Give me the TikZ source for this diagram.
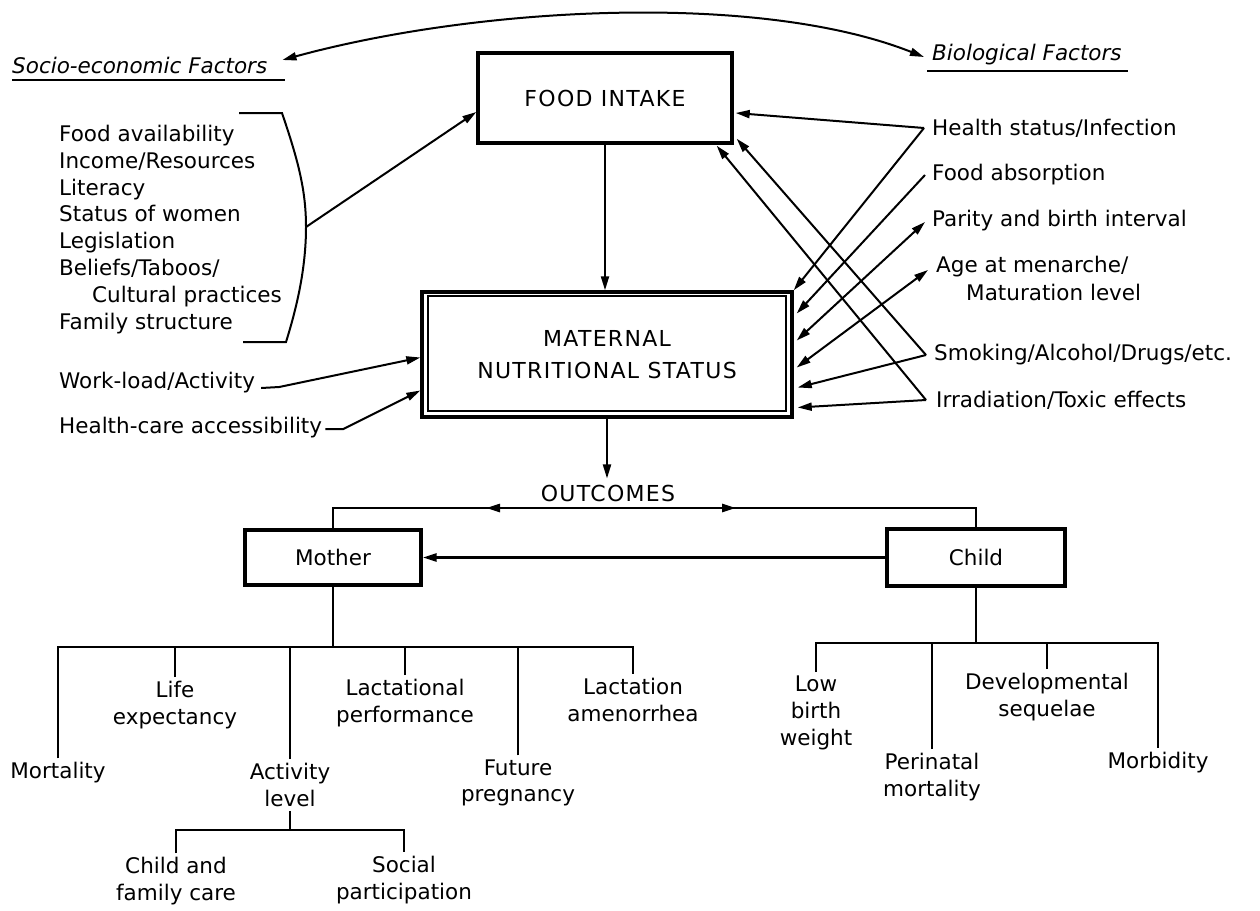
\documentclass[tikz,border=0pt]{standalone}
\usepackage{fontspec}
\setmainfont{DejaVu Sans}
\newfontfamily\capsfont{DejaVu Sans}[LetterSpace=6]
\usetikzlibrary{arrows.meta}
\begin{document}
\begin{tikzpicture}[x=1pt,y=-1pt,
  >={Triangle[length=14pt,width=8pt]},
  every node/.style={inner sep=0pt, font=\fontsize{21.5}{26.7}\selectfont},
  conn/.style={line width=2pt},
  tree/.style={line width=2.6pt},
  boxed/.style={draw, line width=3.4pt},
  caps/.style={font=\capsfont\fontsize{22}{32}\selectfont},
  lbl/.style={align=center, inner sep=4pt}
]
\useasboundingbox (0,0) rectangle (1260,910);
\fill[white] (0,0) rectangle (1260,910);

% titles
\node[anchor=west, font=\itshape\fontsize{21.5}{26}\selectfont] (socio) at (12,65) {Socio-economic Factors};
\node[anchor=west, font=\itshape\fontsize{21.5}{26}\selectfont] (bio) at (932,55) {Biological Factors};
\draw[conn] (12,80) -- (285,80);
\draw[conn] (927,71) -- (1128,71);
\draw[conn,<->] ([shift={(15,-5)}]socio.east) .. controls (480,6) and (760,-8) .. ([shift={(-8,2)}]bio.west);

% main boxes
\node[boxed, caps, minimum width=254pt, minimum height=90pt] (fi) at (605,98) {FOOD INTAKE};
\node[boxed, caps, align=center, minimum width=370pt, minimum height=125pt] (mns) at (607,354.5) {MATERNAL\\NUTRITIONAL STATUS};
\draw[line width=2pt] ([shift={(8,6)}]mns.north west) rectangle ([shift={(-8,-8)}]mns.south east);
\draw[conn,->] (fi.south) -- (fi.south |- mns.north);

% socio-economic list
\node[anchor=north west, align=left, font=\fontsize{21.5}{26.8}\selectfont] (soclist) at (59,125)
  {Food availability\\Income/Resources\\Literacy\\Status of women\\Legislation\\Beliefs/Taboos/\\\hspace*{33pt}Cultural practices\\Family structure};
\draw[conn] (239,113) -- (282,113) .. controls (298,160) and (306,190) .. (306,227)
  .. controls (306,270) and (296,310) .. (286,342) -- (243,342);
\coordinate (brk) at (306,227);
\draw[conn,->] (brk) -- ([shift={(0,14)}]fi.west);

% left inputs
\node[anchor=west] (wl) at (59,383) {Work-load/Activity};
\node[anchor=west] (hc) at (59,428) {Health-care accessibility};
\draw[conn,->] ([shift={(6,5)}]wl.east) -- ++(18,-1) -- ([shift={(0,3)}]mns.west);
\draw[conn,->] ([shift={(3,1)}]hc.east) -- ++(18,0) -- ([shift={(0,36)}]mns.west);

% biological factors
\node[anchor=west] (hs) at (932,128) {Health status/Infection};
\node[anchor=west] (fa) at (932,175) {Food absorption};
\node[anchor=west] (pb) at (932,221) {Parity and birth interval};
\node[anchor=west] (am1) at (936,267) {Age at menarche/};
\node[anchor=west] (am2) at (966,292) {Maturation level};
\node[anchor=west] (sm) at (934,355) {Smoking/Alcohol/Drugs/etc.};
\node[anchor=west] (ir) at (936,400) {Irradiation/Toxic effects};

\draw[conn,->] ([shift={(-8,0)}]hs.west) -- ([shift={(2,15)}]fi.east);
\draw[conn,->] ([shift={(-8,0)}]hs.west) -- (mns.north east);
\draw[conn,->] ([shift={(-7,0)}]fa.west) -- ([shift={(3,-41)}]mns.east);
\draw[conn,<->] ([shift={(-7,1)}]pb.west) -- ([shift={(3,-14)}]mns.east);
\draw[conn,<->] ([shift={(-8,3)}]am1.west) -- ([shift={(3,13)}]mns.east);
\draw[conn,->] ([shift={(-8,0)}]sm.west) -- ([shift={(3,-6)}]fi.south east);
\draw[conn,->] ([shift={(-8,0)}]sm.west) -- ([shift={(4,33)}]mns.east);
\draw[conn,->] ([shift={(-10,0)}]ir.west) -- ([shift={(-17,1)}]fi.south east);
\draw[conn,->] ([shift={(-10,0)}]ir.west) -- ([shift={(4,53)}]mns.east);

% outcomes
\node[caps] (out) at (608,493) {OUTCOMES};
\draw[conn,->] (mns.south) -- ([shift={(0,-6)}]mns.south |- out.north);
\node[boxed, minimum width=176pt, minimum height=55pt] (mother) at (333,557.5) {Mother};
\node[boxed, minimum width=178pt, minimum height=57pt] (child) at (976,557.5) {Child};
\coordinate (oc) at (608,508);
\draw[tree] (mother.north) |- (oc) -| (child.north);
\draw[tree,->] (oc) -- ++(-122,0);
\draw[tree,->] (oc) -- ++(128,0);
\draw[tree,->] (child.west) -- (mother.east);

% mother outcomes
\node[lbl] (mort) at (58,773) {Mortality};
\node[lbl] (life) at (175,705) {Life\\expectancy};
\node[lbl] (act) at (290,785) {Activity\\level};
\node[lbl] (lactp) at (405,703) {Lactational\\performance};
\node[lbl] (fut) at (518,783) {Future\\pregnancy};
\node[lbl] (amen) at (633,700) {Lactation\\amenorrhea};
\coordinate (mb) at (333,647);
\draw[tree] (mother.south) -- (mb);
\draw[tree] (mort.north) |- (mb) -| (amen.north);
\foreach \n in {life,act,lactp,fut} \draw[tree] (\n.north) -- (\n.north |- mb);

\node[lbl] (cfc) at (176,881) {Child and\\family care};
\node[lbl] (soc) at (404,880) {Social\\participation};
\coordinate (ab) at (290,830);
\draw[tree] (act.south) -- (ab);
\draw[tree] (cfc.north) |- (ab) -| (soc.north);

% child outcomes
\node[lbl] (lbw) at (816,713) {Low\\birth\\weight};
\node[lbl] (peri) at (932,777) {Perinatal\\mortality};
\node[lbl] (dev) at (1047,697) {Developmental\\sequelae};
\node[lbl] (morb) at (1158,763) {Morbidity};
\coordinate (cb) at (976,643);
\draw[tree] (child.south) -- (cb);
\draw[tree] (lbw.north) |- (cb) -| (morb.north);
\foreach \n in {peri,dev} \draw[tree] (\n.north) -- (\n.north |- cb);
\end{tikzpicture}
\end{document}
